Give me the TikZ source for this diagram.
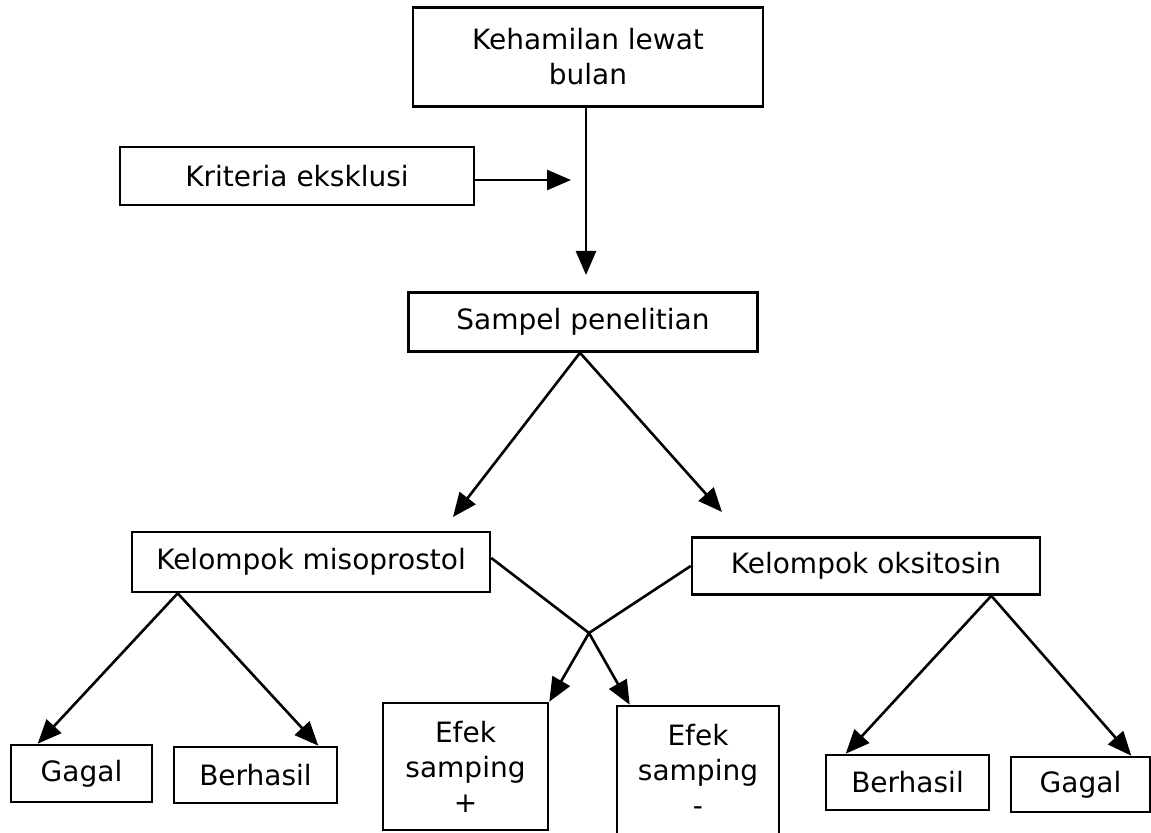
\documentclass[tikz,border=0pt]{standalone}
\usepackage{fontspec}
\setmainfont{DejaVu Sans}
\usetikzlibrary{arrows.meta,positioning,calc}

\begin{document}
\begin{tikzpicture}[
    x=0.5pt, y=-0.5pt,
    kotak/.style={draw, line width=1.3pt, font=\fontsize{14}{17.5}\selectfont,
                  align=center, inner sep=0pt},
    panah/.style={line width=1.3pt, -{Triangle[length=12pt,width=10pt]}}
  ]
    \useasboundingbox (0,0) rectangle (1151,833);
    % kotak utama
    \node[kotak, minimum width=175pt, minimum height=49.5pt] (hamil)  at (588,57)    {Kehamilan lewat\\bulan};
    \node[kotak, minimum width=177pt, minimum height=29pt]   (kriter) at (297,176)   {Kriteria eksklusi};
    \node[kotak, minimum width=174.5pt, minimum height=29.5pt] (sampel) at (583,322) {Sampel penelitian};
    \node[kotak, minimum width=179pt, minimum height=30pt]   (miso)   at (311,562)   {Kelompok misoprostol};
    \node[kotak, minimum width=174pt, minimum height=28.5pt] (oksi)   at (866,566)   {Kelompok oksitosin};
    % kotak hasil
    \node[kotak, minimum width=70.5pt, minimum height=28.5pt] (gagalA) at (81.5,773.5) {Gagal};
    \node[kotak, minimum width=81.5pt, minimum height=28pt]   (berhA)  at (255.5,775)  {Berhasil};
    \node[kotak, minimum width=82.5pt, minimum height=63.5pt] (efekP)  at (465.5,766.5) {Efek\\samping\\+};
    \node[kotak, minimum width=81pt, minimum height=64pt]     (efekM)  at (698,770)    {Efek\\samping\\-};
    \node[kotak, minimum width=81.5pt, minimum height=27.5pt] (berhB)  at (907.5,782.5) {Berhasil};
    \node[kotak, minimum width=69.5pt, minimum height=27.5pt] (gagalB) at (1080.5,784.5) {Gagal};
    % titik bantu
    \coordinate (ujungA) at (586,275);
    \coordinate (ujungK) at (571,180);
    \coordinate (ujungM) at (453,517);
    \coordinate (ujungO) at (722,512);
    \coordinate (silang) at (589,633);
    % panah
    \draw[panah] (hamil.south -| ujungA) -- (ujungA);
    \draw[panah] (kriter.east |- ujungK) -- (ujungK);
    \draw[panah] ([xshift=-1.5pt]sampel.south) -- (ujungM);
    \draw[panah] ([xshift=-1.5pt]sampel.south) -- (ujungO);
    \draw[panah] ([xshift=23.5pt]miso.south west) -- ([xshift=14pt]gagalA.north west);
    \draw[panah] ([xshift=23.5pt]miso.south west) -- ([xshift=-10pt]berhA.north east);
    \draw[panah] ([yshift=2pt]miso.east) -- (silang) -- ([xshift=7pt]efekM.north west);
    \draw[panah] (oksi.west) -- (silang) -- (efekP.north east);
    \draw[panah] ([xshift=-25pt]oksi.south east) -- ([xshift=10.5pt]berhB.north west);
    \draw[panah] ([xshift=-25pt]oksi.south east) -- ([xshift=-10pt]gagalB.north east);
\end{tikzpicture}
\end{document}
